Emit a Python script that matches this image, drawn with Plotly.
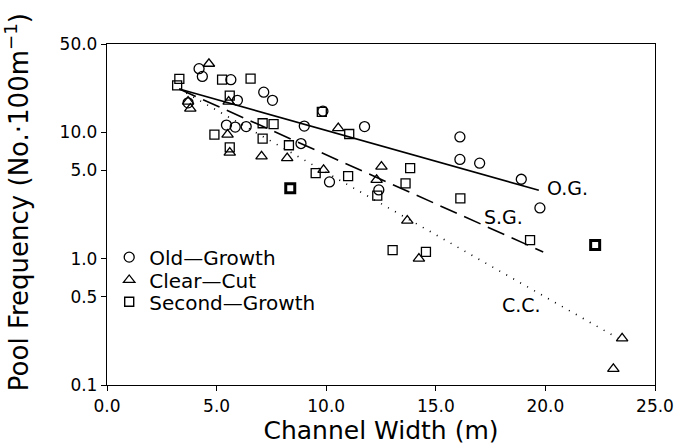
import plotly.graph_objects as go
import numpy as np

# ---- data ----
og_x = [4.2, 4.35, 5.65, 7.15, 7.55, 5.95, 3.7, 5.45, 5.85, 6.35, 9.0, 8.85, 9.85, 11.75,
        10.15, 12.4, 16.1, 16.1, 17.0, 18.9, 19.75]
og_y = [31.9, 27.7, 26.1, 20.8, 17.9, 17.9, 17.1, 11.4, 11.0, 11.1, 11.2, 8.15, 14.7, 11.1,
        4.05, 3.5, 9.2, 6.1, 5.7, 4.25, 2.52]

cc_x = [4.65, 3.7, 3.8, 5.55, 5.5, 5.6, 7.05, 8.22, 10.55, 9.88, 12.52, 12.3, 13.7, 14.23,
        23.5, 23.1]
cc_y = [34.9, 17.5, 15.4, 17.5, 9.6, 6.9, 6.45, 6.25, 10.8, 5.05, 5.35, 4.2, 2.0, 1.0,
        0.234, 0.134]

sg_x = [3.3, 3.2, 5.25, 6.55, 5.6, 4.9, 5.6, 7.1, 7.6, 7.1, 8.3, 8.36, 9.8, 11.05, 9.52,
        11.0, 12.33, 13.83, 13.62, 16.12, 19.3, 13.03, 14.55, 22.27]
sg_y = [26.5, 23.5, 26.1, 26.6, 19.5, 9.6, 7.6, 11.8, 11.6, 8.9, 7.9, 3.6, 14.5, 9.7, 4.75,
        4.5, 3.15, 5.2, 3.95, 3.0, 1.4, 1.17, 1.13, 1.28]
sg_n = [1, 1, 1, 1, 1, 1, 1, 1, 1, 1, 1, 2, 1, 1, 1, 1, 1, 1, 1, 1, 1, 1, 1, 2]

# fitted regression lines (end points)
og_fit_x = [3.3, 19.7]
og_fit_y = [22.0, 3.48]
sg_fit_x = [3.3, 19.9]
sg_fit_y = [22.0, 1.13]
cc_fit_x = [3.3, 23.3]
cc_fit_y = [22.0, 0.235]

x_ticks = [0, 5, 10, 15, 20, 25]
x_tick_labels = ["0.0", "5.0", "10.0", "15.0", "20.0", "25.0"]
y_ticks = [0.1, 0.5, 1.0, 5.0, 10.0, 50.0]
y_tick_labels = ["0.1", "0.5", "1.0", "5.0", "10.0", "50.0"]

labels = [("O.G.", 20.0, 3.6, "left"), ("S.G.", 18.08, 2.14, "center"), ("C.C.", 18.92, 0.43, "center")]

FONT = "DejaVu Sans"
X_RANGE = [0, 25]
Y_RANGE = [np.log10(0.1), np.log10(50)]

fig = go.Figure()

mline = dict(color="black", width=1.3)
fig.add_trace(go.Scatter(x=og_fit_x, y=og_fit_y, mode="lines", showlegend=False,
                         line=dict(color="black", width=1.6)))
fig.add_trace(go.Scatter(x=sg_fit_x, y=sg_fit_y, mode="lines", showlegend=False,
                         line=dict(color="black", width=1.6, dash="18px,8px")))
fig.add_trace(go.Scatter(x=cc_fit_x, y=cc_fit_y, mode="lines", showlegend=False,
                         line=dict(color="black", width=1.6, dash="1px,7px")))

fig.add_trace(go.Scatter(x=og_x, y=og_y, mode="markers", name="Old\u2014Growth", legend="legend",
                         marker=dict(symbol="circle-open", size=10, color="black", line=mline)))
fig.add_trace(go.Scatter(x=cc_x, y=cc_y, mode="markers", name="Clear\u2014Cut", legend="legend2",
                         marker=dict(symbol="triangle-up-open", size=10, color="black", line=mline)))
fig.add_trace(go.Scatter(x=sg_x, y=sg_y, mode="markers", name="Second\u2014Growth", legend="legend3",
                         marker=dict(symbol="square-open", size=9, color="black",
                                     line=dict(color="black", width=[1.3 + 1.7 * (n - 1) for n in sg_n]))))

for txt, lx, ly, anc in labels:
    fig.add_annotation(x=lx, y=np.log10(ly), text=txt, showarrow=False, xanchor=anc,
                       yanchor="middle", font=dict(family=FONT, size=19, color="black"))

# y-axis title as a rotated annotation
fig.add_annotation(xref="paper", yref="paper", x=-0.165, y=0.535, textangle=-90,
                   text="Pool Frequency (No.\u00b7100m<sup>\u22121</sup>)", showarrow=False,
                   xanchor="center", yanchor="middle",
                   font=dict(family=FONT, size=26, color="black"))

axis_common = dict(showline=True, linecolor="black", linewidth=1.3, mirror=True,
                   ticks="outside", ticklen=5, tickwidth=1.3, tickcolor="black",
                   showgrid=False, zeroline=False,
                   tickfont=dict(family=FONT, size=17, color="black"))

fig.update_xaxes(range=X_RANGE, tickvals=x_ticks, ticktext=x_tick_labels,
                 title=dict(text="Channel Width (m)", font=dict(family=FONT, size=25, color="black"),
                            standoff=5), **axis_common)
fig.update_yaxes(type="log", range=Y_RANGE, tickvals=y_ticks, ticktext=y_tick_labels,
                 **axis_common)

legend_common = dict(xanchor="left", yanchor="middle", bgcolor="rgba(0,0,0,0)",
                     font=dict(family=FONT, size=20, color="black"), itemwidth=30,
                     borderwidth=0)

fig.update_layout(
    width=691, height=447,
    margin=dict(l=107, r=36, t=44, b=62, autoexpand=False),
    paper_bgcolor="white", plot_bgcolor="white",
    font=dict(family=FONT, color="black"),
    legend=dict(x=0.004, y=0.375, **legend_common),
    legend2=dict(x=0.004, y=0.308, **legend_common),
    legend3=dict(x=0.004, y=0.244, **legend_common),
    # overlay axes that only add the inner half of the crossing tick marks
    xaxis2=dict(overlaying="x", anchor="y", range=X_RANGE, tickvals=x_ticks, ticks="inside",
                ticklen=4, tickwidth=1.3, tickcolor="black", showticklabels=False,
                showline=False, showgrid=False, zeroline=False),
    yaxis2=dict(overlaying="y", anchor="x", type="log", range=Y_RANGE, tickvals=y_ticks,
                ticks="inside", ticklen=4, tickwidth=1.3, tickcolor="black",
                showticklabels=False, showline=False, showgrid=False, zeroline=False),
)

fig.write_html("out.html")
